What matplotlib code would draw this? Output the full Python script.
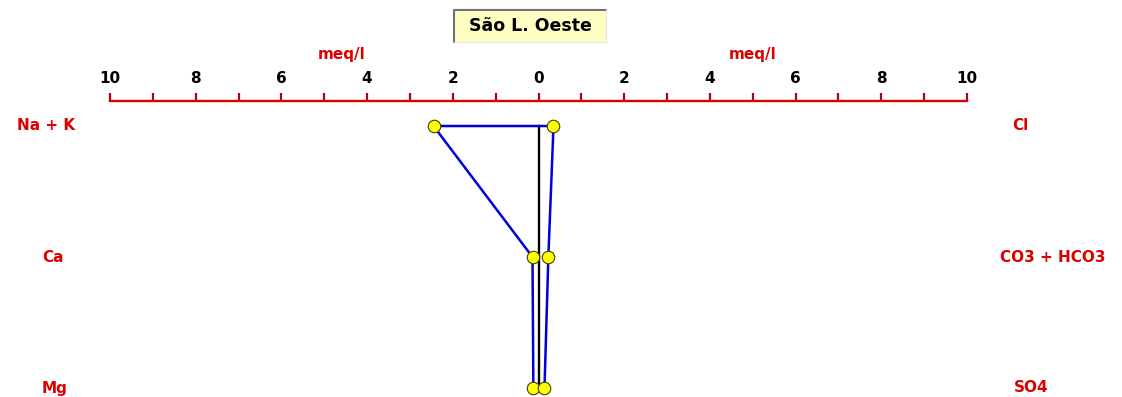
import matplotlib.pyplot as plt
from matplotlib.patches import Rectangle
from matplotlib.lines import Line2D

# Stiff diagram, values in meq/l
station = "São L. Oeste"
cations = ["Na + K", "Ca", "Mg"]
anions = ["Cl", "CO3 + HCO3", "SO4"]
cation_meq = [2.45, 0.14, 0.12]
anion_meq = [0.35, 0.23, 0.14]
scale_ticks = list(range(-10, 11))

W, H = 1122, 397
fig = plt.figure(figsize=(W / 100, H / 100), dpi=100)
fig.patch.set_facecolor("white")

red = "#dd0000"
bold = dict(fontweight="bold", family="DejaVu Sans")

# axes: x from -10..10, rows 0..2 (top to bottom)
x0, x1 = 110, 967
ytop, ybot = 101, 388
row_gap = 131
ax = fig.add_axes([x0 / W, 1 - ybot / H, (x1 - x0) / W, (ybot - ytop) / H])
ax.set_xlim(-10, 10)
ax.set_ylim(2, -(126 - ytop) / row_gap)
for s in ["left", "right", "bottom"]:
    ax.spines[s].set_visible(False)
ax.spines["top"].set_color(red)
ax.spines["top"].set_linewidth(1.7)
ax.set_yticks([])
ax.xaxis.tick_top()
ax.set_xticks(scale_ticks)
ax.set_xticklabels([str(abs(t)) if t % 2 == 0 else "" for t in scale_ticks],
                   fontsize=11, **bold)
ax.tick_params(axis="x", direction="out", length=6, width=1.6, color="#b00020",
               pad=5, labelcolor="black")
ax.patch.set_visible(False)

rows = list(range(len(cations)))

# center line
ax.plot([0, 0], [rows[0], rows[-1]], color="black", lw=1.7, clip_on=False, zorder=2)

# polygon: cations on the left, anions on the right
px = [-v for v in cation_meq] + anion_meq[::-1] + [-cation_meq[0]]
py = rows + rows[::-1] + [rows[0]]
ax.plot(px, py, color="#0000dd", lw=1.8, clip_on=False, zorder=3)
ax.plot([-v for v in cation_meq] + anion_meq, rows + rows, "o",
        ms=9, mfc="#ffff00", mec="#404000", mew=0.8, clip_on=False, zorder=4)

# units
ax.text(-4.6, -(126 - 55) / row_gap, "meq/l", color=red, ha="center", va="center",
        fontsize=11, **bold)
ax.text(5.0, -(126 - 55) / row_gap, "meq/l", color=red, ha="center", va="center",
        fontsize=11, **bold)

# ion labels
left_x = [46, 53, 55]
right_x = [1020, 1053, 1031]
for r, name, lx in zip(rows, cations, left_x):
    fig.text(lx / W, 1 - (126 + r * row_gap) / H, name, color=red, ha="center",
             va="center", fontsize=11, **bold)
for r, name, rx in zip(rows, anions, right_x):
    fig.text(rx / W, 1 - (126 + r * row_gap) / H, name, color=red, ha="center",
             va="center", fontsize=11, **bold)

# title box with sunken border
bx0, by0, bx1, by1 = 454, 10, 606, 42
fig.add_artist(Rectangle((bx0 / W, 1 - by1 / H), (bx1 - bx0) / W, (by1 - by0) / H,
                         transform=fig.transFigure, facecolor="#ffffc4",
                         edgecolor="none"))
fig.add_artist(Line2D([bx0 / W, bx0 / W, bx1 / W], [1 - by1 / H, 1 - by0 / H, 1 - by0 / H],
                      transform=fig.transFigure, color="#707070", lw=1.5))
fig.add_artist(Line2D([bx0 / W, bx1 / W, bx1 / W], [1 - by1 / H, 1 - by1 / H, 1 - by0 / H],
                      transform=fig.transFigure, color="#e8e8e8", lw=1.0))
fig.text((bx0 + bx1) / 2 / W, 1 - (by0 + by1) / 2 / H, station, ha="center",
         va="center", fontsize=12.5, color="black", **bold)

fig.savefig("out.png", dpi=100)
